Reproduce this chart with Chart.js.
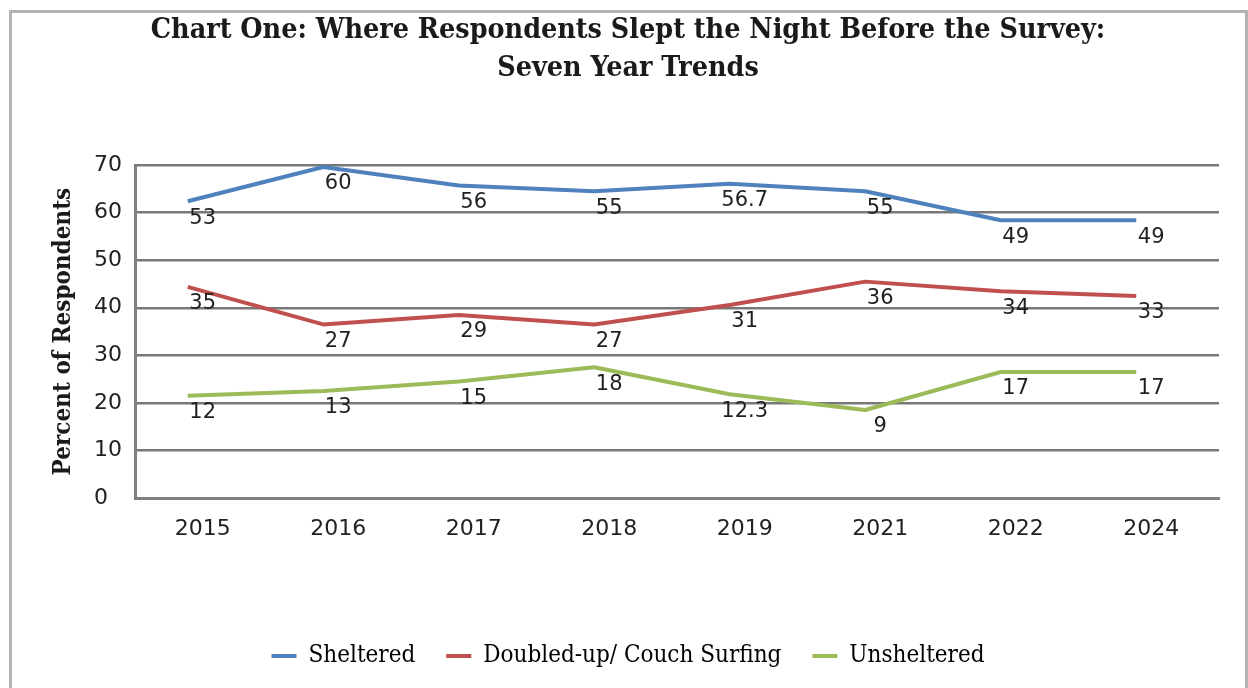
<!DOCTYPE html>
<html>
<head>
<meta charset="utf-8">
<script src="https://cdn.jsdelivr.net/npm/chart.js@4.4.0/dist/chart.umd.min.js"></script>
<style>
  html, body { margin: 0; padding: 0; background: #fff; }
  #wrap { position: relative; width: 1248px; height: 688px; overflow: hidden; }
  #frame {
    position: absolute; left: 9px; top: 10px; width: 1239px; height: 700px;
    box-sizing: border-box;
    border-left: 3px solid #b3b3b3; border-top: 3px solid #b3b3b3; border-right: 3px solid #b3b3b3;
  }
  #chart { position: absolute; left: 0; top: 0; }
</style>
</head>
<body>
<div id="wrap">
  <div id="frame"></div>
  <canvas id="chart" width="1248" height="688"></canvas>
</div>
<script>
// años del eje x
const years = ["2015", "2016", "2017", "2018", "2019", "2021", "2022", "2024"];

// posiciones dibujadas de las líneas
const sheltered = [62.4, 69.6, 65.7, 64.5, 66.1, 64.5, 58.4, 58.4];
const doubledUp = [44.4, 36.5, 38.5, 36.5, 40.6, 45.5, 43.5, 42.5];
const unsheltered = [21.5, 22.5, 24.5, 27.5, 21.8, 18.5, 26.5, 26.5];

// etiquetas de datos tal como aparecen
const shelteredLabels = ["53", "60", "56", "55", "56.7", "55", "49", "49"];
const doubledUpLabels = ["35", "27", "29", "27", "31", "36", "34", "33"];
const unshelteredLabels = ["12", "13", "15", "18", "12.3", "9", "17", "17"];

const yTicks = [0, 10, 20, 30, 40, 50, 60, 70];

const SERIF = '"DejaVu Serif Condensed", "Liberation Serif", serif';
const SANS = '"DejaVu Sans", sans-serif';

// dibuja las etiquetas debajo y a la derecha de cada punto
const pointLabels = {
  id: "pointLabels",
  afterDatasetsDraw(chart) {
    const ctx = chart.ctx;
    ctx.save();
    ctx.font = "21px " + SANS;
    ctx.fillStyle = "#1f1f1f";
    ctx.textAlign = "center";
    ctx.textBaseline = "middle";
    chart.data.datasets.forEach((ds, i) => {
      const meta = chart.getDatasetMeta(i);
      meta.data.forEach((pt, j) => {
        ctx.fillText(ds.valueLabels[j], pt.x + 15, pt.y + 17);
      });
    });
    ctx.restore();
  },
};

function serie(label, values, labels, color) {
  return {
    label: label,
    data: values.map((v, i) => ({ x: i, y: v })),
    valueLabels: labels,
    borderColor: color,
    backgroundColor: color,
    borderWidth: 4,
    pointRadius: 0,
    tension: 0,
    borderJoinStyle: "round",
    xAxisID: "xl",
  };
}

new Chart(document.getElementById("chart").getContext("2d"), {
  type: "line",
  data: {
    labels: years,
    datasets: [
      serie("Sheltered", sheltered, shelteredLabels, "#4f81bd"),
      serie("Doubled-up/ Couch Surfing", doubledUp, doubledUpLabels, "#c0504d"),
      serie("Unsheltered", unsheltered, unshelteredLabels, "#9bbb59"),
    ],
  },
  options: {
    responsive: false,
    animation: false,
    events: [],
    layout: { padding: { left: 37, right: 29, top: 0, bottom: 10 } },
    plugins: {
      title: {
        display: true,
        text: [
          "Chart One: Where Respondents Slept the Night Before the Survey:",
          "Seven Year Trends",
        ],
        color: "#1a1a1a",
        font: { family: SERIF, size: 28.4, weight: "bold", lineHeight: 1.34 },
        padding: { top: 12, bottom: 77 },
      },
      legend: {
        position: "bottom",
        labels: {
          boxWidth: 25,
          boxHeight: 4,
          padding: 31,
          color: "#1a1a1a",
          font: { family: SERIF, size: 24 },
          generateLabels(chart) {
            return chart.data.datasets.map((ds, i) => ({
              text: ds.label,
              fillStyle: ds.borderColor,
              strokeStyle: ds.borderColor,
              lineWidth: 0,
              hidden: false,
              datasetIndex: i,
            }));
          },
        },
      },
      tooltip: { enabled: false },
    },
    scales: {
      x: {
        type: "category",
        offset: true,
        afterFit(scale) { scale.height = 115; },
        grid: {
          offset: true,
          drawTicks: false,
          color: (c) => (c.index === years.length ? "#d9d9d9" : "rgba(0,0,0,0)"),
          lineWidth: 2,
        },
        border: { display: true, color: "#7f7f7f", width: 3 },
        ticks: {
          padding: 18,
          color: "#222",
          font: { family: SANS, size: 22 },
          maxRotation: 0,
          autoSkip: false,
        },
      },
      xl: {
        type: "linear",
        display: false,
        min: -0.389,
        max: 7.611,
      },
      y: {
        min: 0,
        max: 70,
        afterFit(scale) { scale.width = 98; },
        afterBuildTicks(scale) { scale.ticks = yTicks.map((v) => ({ value: v })); },
        grid: { color: "#787878", lineWidth: 2.4, drawTicks: false },
        border: { display: true, color: "#7f7f7f", width: 3 },
        ticks: {
          padding: 13,
          color: "#222",
          font: { family: SANS, size: 22 },
          callback: (v) => (v < 10 ? v + "  " : String(v)),
        },
        title: {
          display: true,
          text: "Percent of Respondents",
          color: "#1a1a1a",
          font: { family: SERIF, size: 24, weight: "bold" },
          padding: { top: 12, bottom: 0 },
        },
      },
    },
  },
  plugins: [pointLabels],
});
</script>
</body>
</html>
